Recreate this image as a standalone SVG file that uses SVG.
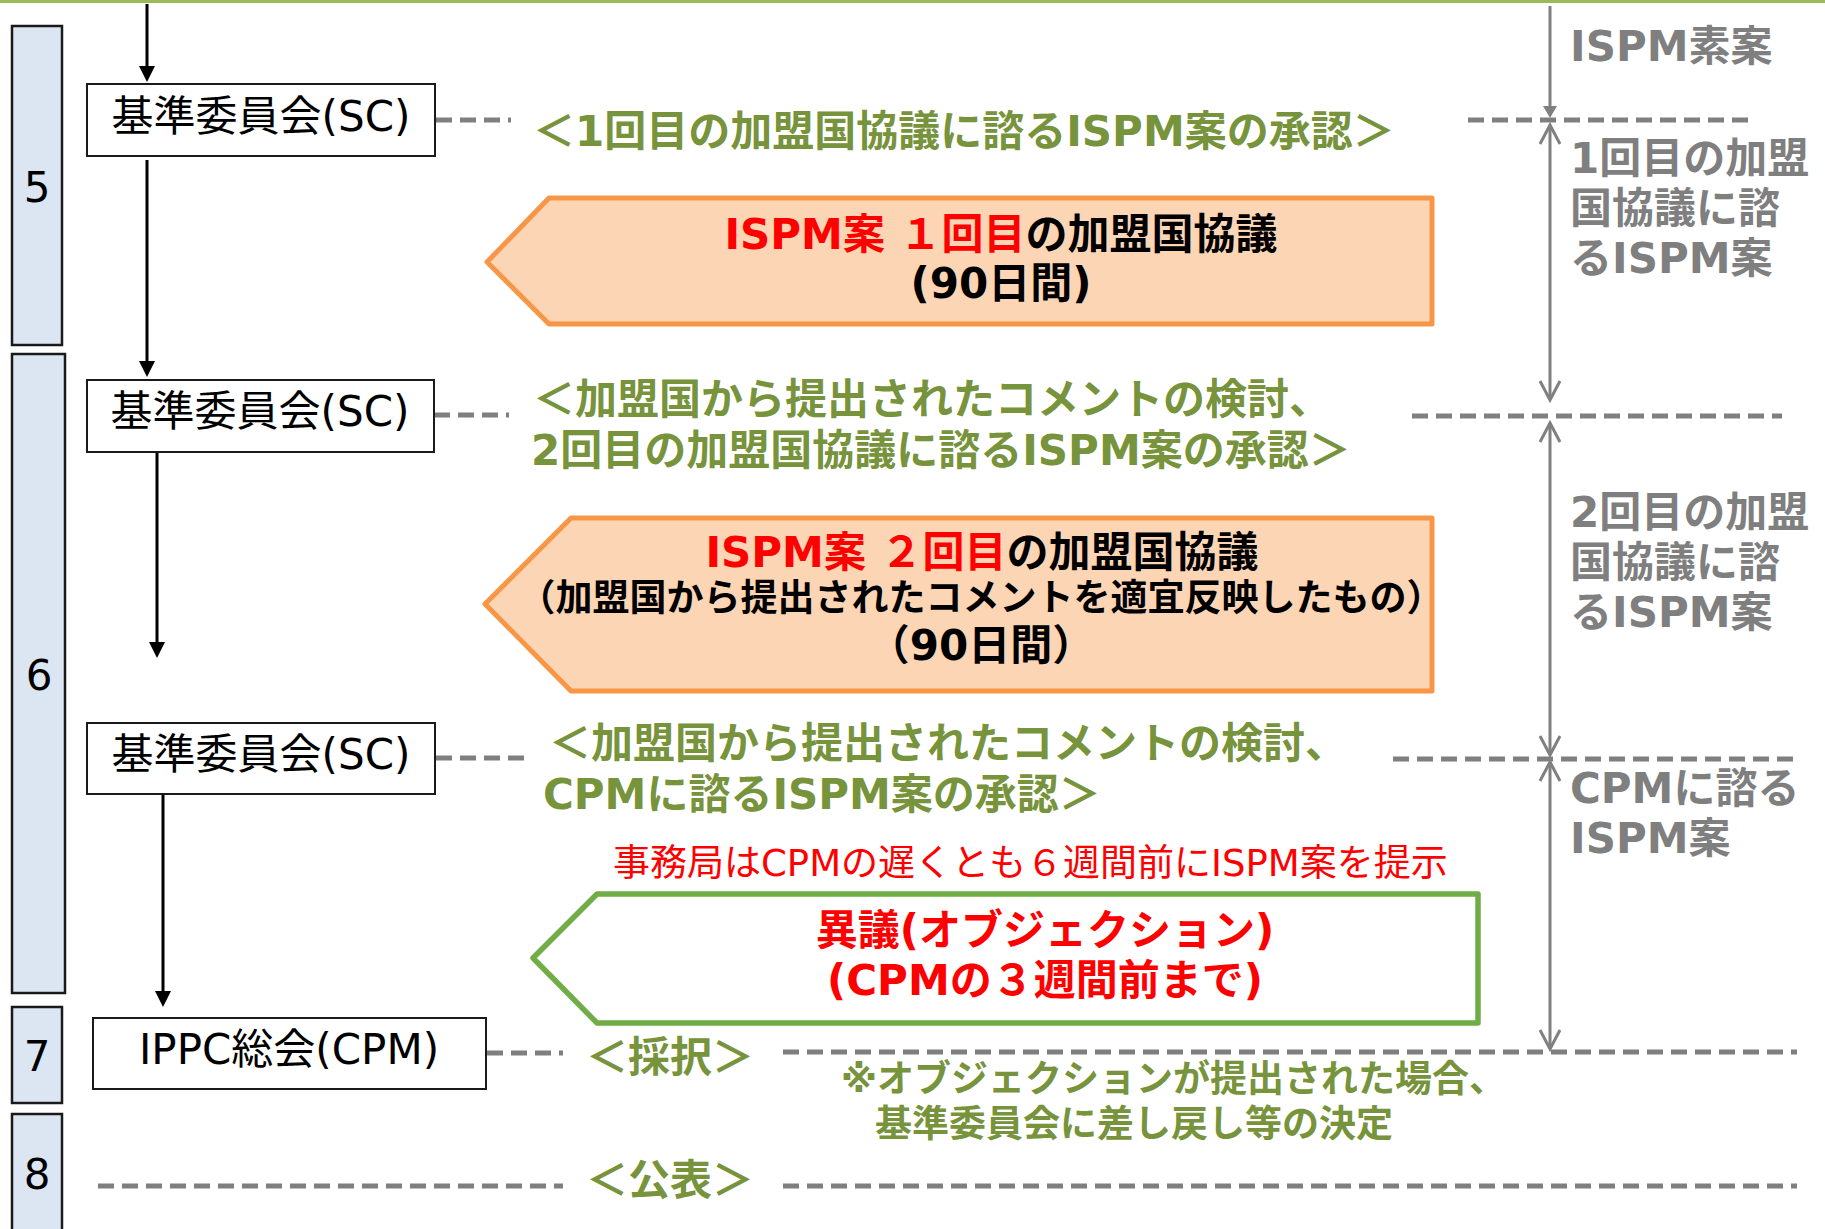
<svg xmlns="http://www.w3.org/2000/svg" width="1825" height="1229" viewBox="0 0 1825 1229">
<defs>
<style>
text{font-family:"DejaVu Sans","Noto Sans CJK JP",sans-serif}
.bar{fill:#DCE6F2;stroke:#1a1a1a;stroke-width:2.5}
.num{font-size:42px;fill:#000;text-anchor:middle}
.box{fill:#fff;stroke:#1a1a1a;stroke-width:2}
.boxt{font-size:42px;fill:#000;text-anchor:middle}
.flow{stroke:#000;stroke-width:3;fill:none;marker-end:url(#ah)}
.dash{stroke:#7F7F7F;stroke-width:5;stroke-dasharray:16 8;fill:none}
.gline{stroke:#808080;stroke-width:3;fill:none}
.green{font-size:42px;font-weight:bold;fill:#77933C}
.note{font-size:37px;font-weight:bold;fill:#77933C}
.gray{font-size:42px;font-weight:bold;fill:#7F7F7F}
.po{fill:#FCD5B5;stroke:#F79646;stroke-width:5;stroke-linejoin:round}
.pg{fill:#fff;stroke:#70AD47;stroke-width:5.5;stroke-linejoin:round}
.pt{font-size:42px;font-weight:bold;fill:#000;text-anchor:middle}
.sub{font-size:37px}
.red{fill:#FF0000}
.sec{font-size:37px;fill:#FF0000}
</style>
<marker id="ah" markerUnits="userSpaceOnUse" viewBox="0 0 16 16" refX="8" refY="8" markerWidth="16" markerHeight="16" orient="auto">
<path d="M0,0 L16,8 L0,16 z" fill="#000"/>
</marker>
<marker id="gtri" markerUnits="userSpaceOnUse" viewBox="0 0 12 14" refX="6" refY="7" markerWidth="12" markerHeight="14" orient="auto">
<path d="M0,0 L12,7 L0,14 z" fill="#808080"/>
</marker>
<marker id="gv" markerUnits="userSpaceOnUse" viewBox="-21 -12 23 24" refX="0" refY="0" markerWidth="23" markerHeight="24" orient="auto-start-reverse" overflow="visible">
<path d="M-19,-10 L0,0 L-19,10" fill="none" stroke="#808080" stroke-width="3"/>
</marker>
</defs>

<rect x="0" y="0" width="1825" height="1229" fill="#fff"/>
<rect x="0" y="0" width="1825" height="3" fill="#9BBB59"/>

<g id="stage-5"><rect class="bar" x="12" y="26" width="50" height="319"/><text class="num" x="37" y="202">5</text></g>
<g id="stage-6"><rect class="bar" x="12" y="354" width="53" height="639"/><text class="num" x="39" y="690">6</text></g>
<g id="stage-7"><rect class="bar" x="12" y="1007" width="50" height="96"/><text class="num" x="37" y="1071">7</text></g>
<g id="stage-8"><rect class="bar" x="12" y="1114" width="50" height="125"/><text class="num" x="37" y="1189">8</text></g>

<g id="connectors">
<line class="flow" x1="147" y1="4" x2="147" y2="74"/>
<line class="flow" x1="147" y1="160" x2="147" y2="369"/>
<line class="flow" x1="157" y1="452" x2="157" y2="650"/>
<line class="flow" x1="163" y1="795" x2="163" y2="999"/>
<line class="dash" x1="436" y1="120" x2="511" y2="120"/>
<line class="dash" x1="434" y1="415" x2="509" y2="415"/>
<line class="dash" x1="436" y1="758" x2="524" y2="758"/>
<line class="dash" x1="487" y1="1053" x2="563" y2="1053"/>
<line class="dash" x1="98" y1="1186" x2="563" y2="1186"/>
<line class="dash" x1="1468" y1="120" x2="1752" y2="120"/>
<line class="dash" x1="1412" y1="416" x2="1782" y2="416"/>
<line class="dash" x1="1393" y1="759" x2="1797" y2="759"/>
<line class="dash" x1="783" y1="1052" x2="1797" y2="1052"/>
<line class="dash" x1="783" y1="1186" x2="1797" y2="1186"/>
<line class="gline" x1="1550" y1="6" x2="1550" y2="112" marker-end="url(#gtri)"/>
<line class="gline" x1="1550" y1="125" x2="1550" y2="400" marker-start="url(#gv)" marker-end="url(#gv)"/>
<line class="gline" x1="1550" y1="423" x2="1550" y2="755" marker-start="url(#gv)" marker-end="url(#gv)"/>
<line class="gline" x1="1550" y1="762" x2="1550" y2="1049" marker-start="url(#gv)" marker-end="url(#gv)"/>
</g>

<g id="sc1"><rect class="box" x="87" y="84" width="348" height="72"/><text class="boxt" x="261" y="131">基準委員会(SC)</text></g>
<g id="sc2"><rect class="box" x="87" y="380" width="347" height="72"/><text class="boxt" x="260" y="426">基準委員会(SC)</text></g>
<g id="sc3"><rect class="box" x="87" y="723" width="348" height="71"/><text class="boxt" x="261" y="769">基準委員会(SC)</text></g>
<g id="cpm"><rect class="box" x="93" y="1018" width="393" height="71"/><text class="boxt" x="289" y="1064">IPPC総会(CPM)</text></g>

<g id="label-approve1"><text class="green" x="533" y="146">＜1回目の加盟国協議に諮るISPM案の承認＞</text></g>
<g id="label-approve2"><text class="green" x="533" y="414">＜加盟国から提出されたコメントの検討、</text><text class="green" x="531" y="465">2回目の加盟国協議に諮るISPM案の承認＞</text></g>
<g id="label-approve3"><text class="green" x="549" y="758">＜加盟国から提出されたコメントの検討、</text><text class="green" x="543" y="809">CPMに諮るISPM案の承認＞</text></g>
<g id="label-adopt"><text class="green" x="586" y="1072">＜採択＞</text></g>
<g id="label-publish"><text class="green" x="586" y="1195">＜公表＞</text></g>
<g id="label-objection-note"><text class="note" x="841" y="1092">※オブジェクションが提出された場合、</text><text class="note" x="875" y="1137">基準委員会に差し戻し等の決定</text></g>
<g id="label-secretariat"><text class="sec" x="613" y="876">事務局はCPMの遅くとも６週間前にISPM案を提示</text></g>

<g id="consult1"><polygon class="po" points="487,262 549,198 1432,198 1432,324 549,324"/>
<text class="pt" x="1001" y="249"><tspan class="red">ISPM案 １回目</tspan>の加盟国協議</text>
<text class="pt" x="1001" y="298">(90日間)</text></g>

<g id="consult2"><polygon class="po" points="485,604 571,518 1432,518 1432,691 571,691"/>
<text class="pt" x="982" y="567"><tspan class="red">ISPM案 ２回目</tspan>の加盟国協議</text>
<text class="pt sub" x="981" y="611">（加盟国から提出されたコメントを適宜反映したもの）</text>
<text class="pt" x="981" y="660">（90日間）</text></g>

<g id="objection"><polygon class="pg" points="533,958 597,894 1478,894 1478,1023 597,1023"/>
<text class="pt red" x="1045" y="945">異議(オブジェクション)</text>
<text class="pt red" x="1045" y="995">(CPMの３週間前まで)</text></g>

<g id="side-draft"><text class="gray" x="1570" y="61">ISPM素案</text></g>
<g id="side-first"><text class="gray" x="1570" y="173">1回目の加盟<tspan x="1570" y="223">国協議に諮</tspan><tspan x="1570" y="273">るISPM案</tspan></text></g>
<g id="side-second"><text class="gray" x="1570" y="527">2回目の加盟<tspan x="1570" y="577">国協議に諮</tspan><tspan x="1570" y="627">るISPM案</tspan></text></g>
<g id="side-cpm"><text class="gray" x="1570" y="803">CPMに諮る<tspan x="1570" y="853">ISPM案</tspan></text></g>
</svg>
